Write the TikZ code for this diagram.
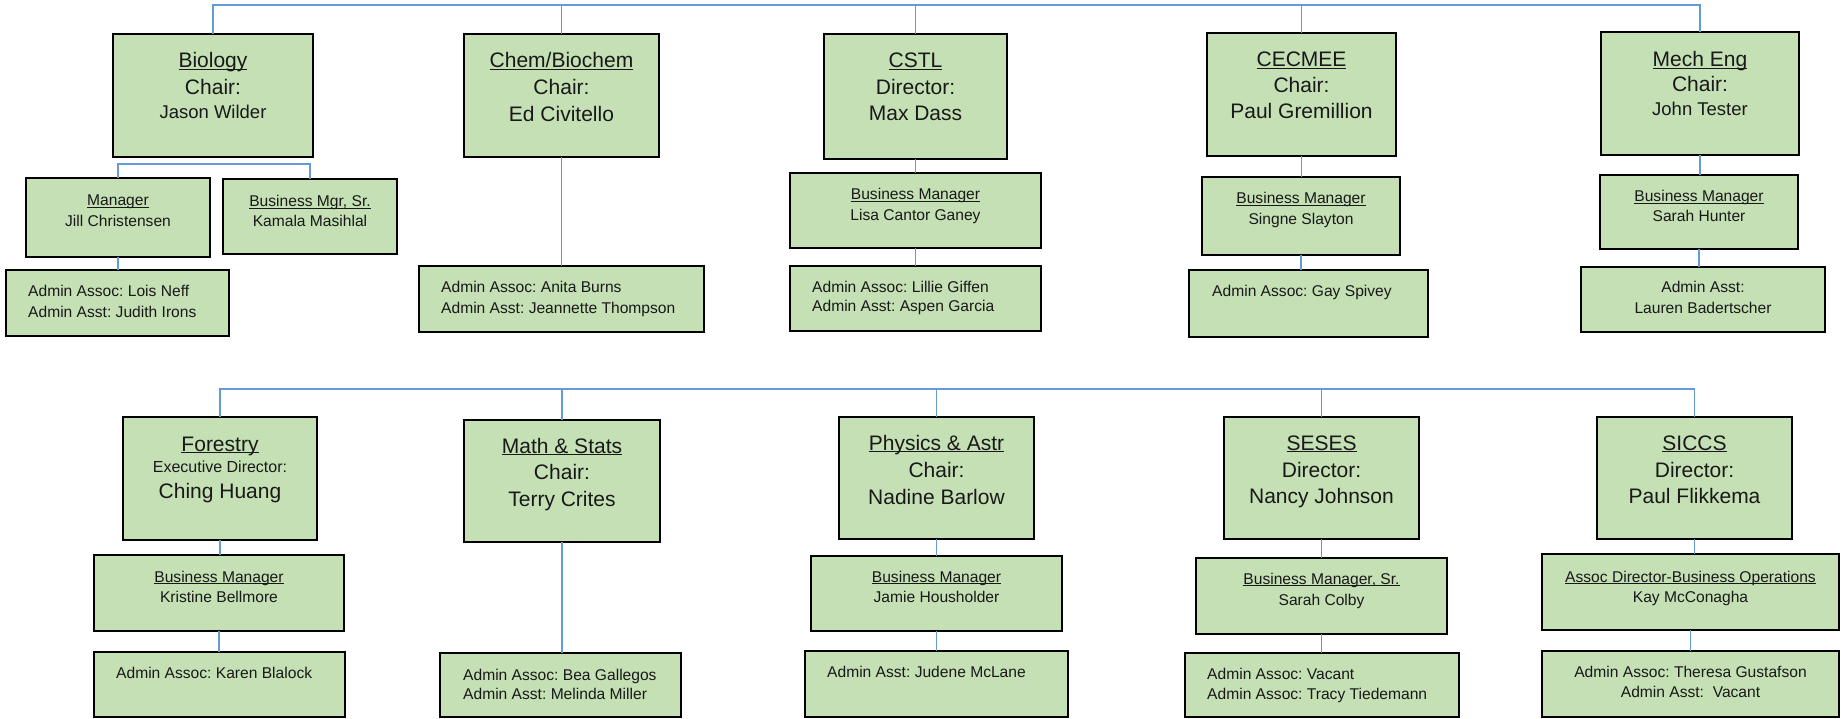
\documentclass[tikz,border=0pt]{standalone}
\usepackage{fontspec}
\setmainfont{Liberation Sans}
\usetikzlibrary{calc}
\frenchspacing
\definecolor{boxfill}{RGB}{197,224,180}
\definecolor{linkblue}{RGB}{100,155,215}
\newcommand\myBig{\fontsize{21}{25}\selectfont}
\newcommand\myName{\fontsize{18.5}{22}\selectfont}
\newcommand\mySm{\fontsize{15.6}{19}\selectfont}
\newcommand\myExec{\fontsize{16}{19}\selectfont}
\newcommand\ulx[1]{\setbox0\hbox{#1}\rlap{\rule[-0.1em]{\wd0}{0.065em}}\box0}
\newcommand\bx[5]{%
  \pgfmathsetmacro\bxw{#4-#2}\pgfmathsetmacro\bxh{#5-#3}%
  \node[orgbox, minimum width=\bxw pt, minimum height=\bxh pt] (#1) at ({(#2+#4)/2},{(#3+#5)/2}) {};}
\tikzset{
  orgbox/.style={draw=black, line width=1.8pt, fill=boxfill, rectangle, inner sep=0pt, outer sep=0pt},
  conn/.style={draw=linkblue, line width=1.2pt},
  tc/.style={anchor=base, inner sep=0pt, text=black!90},
  tlft/.style={anchor=base west, inner sep=0pt, text=black!90}
}
\begin{document}
\begin{tikzpicture}[x=1pt,y=-1pt]
\useasboundingbox (0,0) rectangle (1841,719);
% ---------- top row boxes
\bx{bio}{113}{34}{313}{157}
\bx{biomgr}{26}{178}{210}{257}
\bx{biobms}{223}{179}{397}{254}
\bx{bioad}{6}{270}{229}{336}
\bx{chem}{464}{34}{659}{157}
\bx{chemad}{419}{266}{704}{332}
\bx{cstl}{824}{34}{1007}{159}
\bx{cstlbm}{790}{173}{1041}{248}
\bx{cstlad}{790}{266}{1041}{331}
\bx{cec}{1207}{33}{1396}{156}
\bx{cecbm}{1202}{177}{1400}{255}
\bx{cecad}{1189}{270}{1428}{337}
\bx{mech}{1601}{32}{1799}{155}
\bx{mechbm}{1600}{175}{1798}{249}
\bx{mechad}{1581}{267}{1825}{332}
% ---------- bottom row boxes
\bx{for}{123}{417}{317}{540}
\bx{forbm}{94}{555}{344}{631}
\bx{forad}{94}{652}{345}{717}
\bx{math}{464}{420}{660}{542}
\bx{mathad}{440}{653}{681}{717}
\bx{phy}{839}{417}{1034}{539}
\bx{phybm}{811}{556}{1062}{631}
\bx{phyad}{805}{651}{1068}{717}
\bx{ses}{1224}{417}{1419}{539}
\bx{sesbm}{1196}{558}{1447}{634}
\bx{sesad}{1185}{653}{1459}{717}
\bx{sic}{1597}{417}{1792}{539}
\bx{sicbm}{1542}{554}{1839}{630}
\bx{sicad}{1542}{651}{1839}{717}
% ---------- connectors
\coordinate (bus1) at (0,5);
\coordinate (bus2) at (0,389);
\draw[conn] (bio.north) -- (bio.north |- bus1) -- (mech.north |- bus1) -- (mech.north);
\draw[conn] (chem.north) -- (chem.north |- bus1);
\draw[conn] (cstl.north) -- (cstl.north |- bus1);
\draw[conn] (cec.north) -- (cec.north |- bus1);
\draw[conn] (biomgr.north) -- ++(0,-14) -| (biobms.north);
\draw[conn] (biomgr.south) -- (biomgr.south |- bioad.north);
\draw[conn] (chem.south) -- (chem.south |- chemad.north);
\draw[conn] (cstl.south) -- (cstl.south |- cstlbm.north);
\draw[conn] (cstlbm.south) -- (cstlbm.south |- cstlad.north);
\draw[conn] (cec.south) -- (cec.south |- cecbm.north);
\draw[conn] (cecbm.south) -- (cecbm.south |- cecad.north);
\draw[conn] (mech.south) -- (mech.south |- mechbm.north);
\draw[conn] (mechbm.south) -- (mechbm.south |- mechad.north);
\draw[conn] (for.north) -- (for.north |- bus2) -- (sic.north |- bus2) -- (sic.north);
\draw[conn] (math.north) -- (math.north |- bus2);
\draw[conn] (phy.north) -- (phy.north |- bus2);
\draw[conn] (ses.north) -- (ses.north |- bus2);
\draw[conn] (for.south) -- (for.south |- forbm.north);
\draw[conn] (forbm.south) -- (forbm.south |- forad.north);
\draw[conn] (math.south) -- (math.south |- mathad.north);
\draw[conn] (phy.south) -- (phy.south |- phybm.north);
\draw[conn] (phybm.south) -- (phybm.south |- phyad.north);
\draw[conn] (ses.south) -- (ses.south |- sesbm.north);
\draw[conn] (sesbm.south) -- (sesbm.south |- sesad.north);
\draw[conn] (sic.south) -- (sic.south |- sicbm.north);
\draw[conn] (sicbm.south) -- (sicbm.south |- sicad.north);
% ---------- texts top row
\node[tc,font=\myBig] (bio1) at ($(bio.north)+(0,34)$) {\ulx{Biology}};
\node[tc,font=\myBig] (bio2) at ($(bio.north)+(0,61)$) {Chair:};
\node[tc,font=\myName] (bio3) at ($(bio.north)+(0,85)$) {Jason Wilder};
\node[tc,font=\mySm] (biomgr1) at ($(biomgr.north)+(0,28)$) {\ulx{Manager}};
\node[tc,font=\mySm] (biomgr2) at ($(biomgr.north)+(0,49)$) {Jill Christensen};
\node[tc,font=\mySm] (biobms1) at ($(biobms.north)+(0,28)$) {\ulx{Business Mgr, Sr.}};
\node[tc,font=\mySm] (biobms2) at ($(biobms.north)+(0,48)$) {Kamala Masihlal};
\node[tlft,font=\mySm] (bioad1) at ($(bioad.north west)+(22,27)$) {Admin Assoc: Lois Neff};
\node[tlft,font=\mySm] (bioad2) at ($(bioad.north west)+(22,47)$) {Admin Asst: Judith Irons};
\node[tc,font=\myBig] (chem1) at ($(chem.north)+(0,34)$) {\ulx{Chem/Biochem}};
\node[tc,font=\myBig] (chem2) at ($(chem.north)+(0,61)$) {Chair:};
\node[tc,font=\myBig] (chem3) at ($(chem.north)+(0,88)$) {Ed Civitello};
\node[tlft,font=\mySm] (chemad1) at ($(chemad.north west)+(22,27)$) {Admin Assoc: Anita Burns};
\node[tlft,font=\mySm] (chemad2) at ($(chemad.north west)+(22,47)$) {Admin Asst: Jeannette Thompson};
\node[tc,font=\myBig] (cstl1) at ($(cstl.north)+(0,34)$) {\ulx{CSTL}};
\node[tc,font=\myBig] (cstl2) at ($(cstl.north)+(0,61)$) {Director:};
\node[tc,font=\myBig] (cstl3) at ($(cstl.north)+(0,87)$) {Max Dass};
\node[tc,font=\mySm] (cstlbm1) at ($(cstlbm.north)+(0,27)$) {\ulx{Business Manager}};
\node[tc,font=\mySm] (cstlbm2) at ($(cstlbm.north)+(0,48)$) {Lisa Cantor Ganey};
\node[tlft,font=\mySm] (cstlad1) at ($(cstlad.north west)+(22,26)$) {Admin Assoc: Lillie Giffen};
\node[tlft,font=\mySm] (cstlad2) at ($(cstlad.north west)+(22,46)$) {Admin Asst: Aspen Garcia};
\node[tc,font=\myBig] (cec1) at ($(cec.north)+(0,34)$) {\ulx{CECMEE}};
\node[tc,font=\myBig] (cec2) at ($(cec.north)+(0,60)$) {Chair:};
\node[tc,font=\myBig] (cec3) at ($(cec.north)+(0,86)$) {Paul Gremillion};
\node[tc,font=\mySm] (cecbm1) at ($(cecbm.north)+(0,27)$) {\ulx{Business Manager}};
\node[tc,font=\mySm] (cecbm2) at ($(cecbm.north)+(0,48)$) {Singne Slayton};
\node[tlft,font=\mySm] (cecad1) at ($(cecad.north west)+(23,27)$) {Admin Assoc: Gay Spivey};
\node[tc,font=\myBig] (mech1) at ($(mech.north)+(0,35)$) {\ulx{Mech Eng}};
\node[tc,font=\myBig] (mech2) at ($(mech.north)+(0,60)$) {Chair:};
\node[tc,font=\myName] (mech3) at ($(mech.north)+(0,84)$) {John Tester};
\node[tc,font=\mySm] (mechbm1) at ($(mechbm.north)+(0,27)$) {\ulx{Business Manager}};
\node[tc,font=\mySm] (mechbm2) at ($(mechbm.north)+(0,47)$) {Sarah Hunter};
\node[tc,font=\mySm] (mechad1) at ($(mechad.north)+(0,26)$) {Admin Asst:};
\node[tc,font=\mySm] (mechad2) at ($(mechad.north)+(0,46)$) {Lauren Badertscher};
% ---------- texts bottom row
\node[tc,font=\myBig] (for1) at ($(for.north)+(0,34)$) {\ulx{Forestry}};
\node[tc,font=\myExec] (for2) at ($(for.north)+(0,55)$) {Executive Director:};
\node[tc,font=\myBig] (for3) at ($(for.north)+(0,81)$) {Ching Huang};
\node[tc,font=\mySm] (forbm1) at ($(forbm.north)+(0,27)$) {\ulx{Business Manager}};
\node[tc,font=\mySm] (forbm2) at ($(forbm.north)+(0,47)$) {Kristine Bellmore};
\node[tlft,font=\mySm] (forad1) at ($(forad.north west)+(22,26)$) {Admin Assoc: Karen Blalock};
\node[tc,font=\myBig] (math1) at ($(math.north)+(0,33)$) {\ulx{Math \& Stats}};
\node[tc,font=\myBig] (math2) at ($(math.north)+(0,59)$) {Chair:};
\node[tc,font=\myBig] (math3) at ($(math.north)+(0,86)$) {Terry Crites};
\node[tlft,font=\mySm] (mathad1) at ($(mathad.north west)+(23,27)$) {Admin Assoc: Bea Gallegos};
\node[tlft,font=\mySm] (mathad2) at ($(mathad.north west)+(23,46)$) {Admin Asst: Melinda Miller};
\node[tc,font=\myBig] (phy1) at ($(phy.north)+(0,33)$) {\ulx{Physics \& Astr}};
\node[tc,font=\myBig] (phy2) at ($(phy.north)+(0,60)$) {Chair:};
\node[tc,font=\myBig] (phy3) at ($(phy.north)+(0,87)$) {Nadine Barlow};
\node[tc,font=\mySm] (phybm1) at ($(phybm.north)+(0,26)$) {\ulx{Business Manager}};
\node[tc,font=\mySm] (phybm2) at ($(phybm.north)+(0,46)$) {Jamie Housholder};
\node[tlft,font=\mySm] (phyad1) at ($(phyad.north west)+(22,26)$) {Admin Asst: Judene McLane};
\node[tc,font=\myBig] (ses1) at ($(ses.north)+(0,33)$) {\ulx{SESES}};
\node[tc,font=\myBig] (ses2) at ($(ses.north)+(0,60)$) {Director:};
\node[tc,font=\myBig] (ses3) at ($(ses.north)+(0,86)$) {Nancy Johnson};
\node[tc,font=\mySm] (sesbm1) at ($(sesbm.north)+(0,26)$) {\ulx{Business Manager, Sr.}};
\node[tc,font=\mySm] (sesbm2) at ($(sesbm.north)+(0,47)$) {Sarah Colby};
\node[tlft,font=\mySm] (sesad1) at ($(sesad.north west)+(22,26)$) {Admin Assoc: Vacant};
\node[tlft,font=\mySm] (sesad2) at ($(sesad.north west)+(22,46)$) {Admin Assoc: Tracy Tiedemann};
\node[tc,font=\myBig] (sic1) at ($(sic.north)+(0,33)$) {\ulx{SICCS}};
\node[tc,font=\myBig] (sic2) at ($(sic.north)+(0,60)$) {Director:};
\node[tc,font=\myBig] (sic3) at ($(sic.north)+(0,86)$) {Paul Flikkema};
\node[tc,font=\mySm] (sicbm1) at ($(sicbm.north)+(0,28)$) {\ulx{Assoc Director-Business Operations}};
\node[tc,font=\mySm] (sicbm2) at ($(sicbm.north)+(0,48)$) {Kay McConagha};
\node[tc,font=\mySm] (sicad1) at ($(sicad.north)+(0,26)$) {Admin Assoc: Theresa Gustafson};
\node[tc,font=\mySm] (sicad2) at ($(sicad.north)+(0,46)$) {Admin Asst:~ Vacant};
\end{tikzpicture}
\end{document}
